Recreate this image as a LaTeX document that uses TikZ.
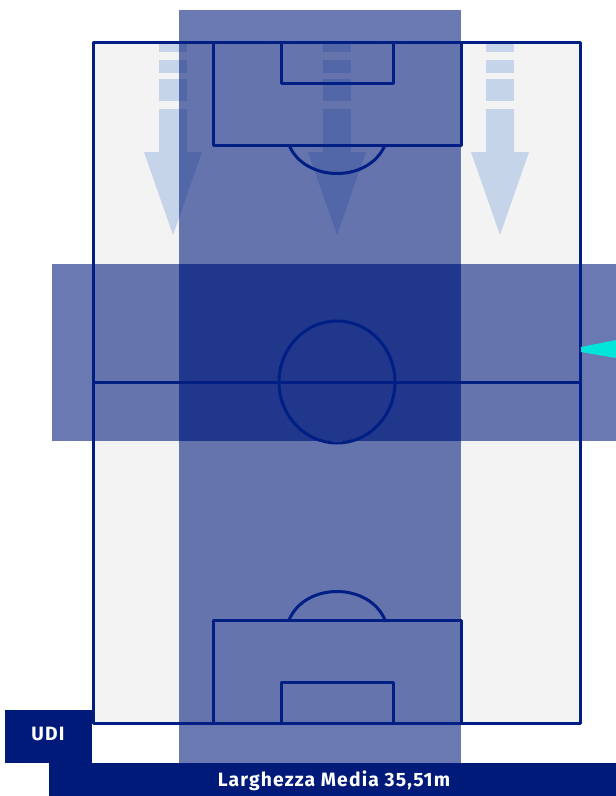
\documentclass[tikz,border=0pt]{standalone}
\usepackage{fontspec}
\setmainfont{Fira Sans}
\newfontfamily\labelfont[LetterSpace=6,BoldFont={Fira Sans Bold}]{Fira Sans}
\definecolor{navy}{HTML}{001A7A}
\definecolor{line}{HTML}{001F85}
\definecolor{pitch}{HTML}{F3F3F3}
\definecolor{arrowblue}{HTML}{C5D4E9}
\definecolor{overlapblue}{HTML}{20378C}
\definecolor{cyanmark}{HTML}{00E5DA}
\tikzset{
  band/.style={fill=navy,fill opacity=.585,draw=none},
  pitchline/.style={draw=line,line width=3pt,line join=round},
  arrowpart/.style={fill=arrowblue,draw=none},
  label/.style={text=white,font=\labelfont\bfseries\fontsize{19.3}{22}\selectfont,inner sep=0pt}
}
\newcommand{\downarrowmark}[1]{%
  \fill[arrowpart] (#1-14,44) rectangle (#1+14,52);
  \fill[arrowpart] (#1-14,60) rectangle (#1+14,73);
  \fill[arrowpart] (#1-14,79) rectangle (#1+14,101);
  \fill[arrowpart] (#1-14,109) -- (#1+14,109) -- (#1+14,152) -- (#1+29,152)
     -- (#1,235) -- (#1-29,152) -- (#1-14,152) -- cycle;
}
\begin{document}
\begin{tikzpicture}[x=1pt,y=-1pt]
\useasboundingbox (0,0) rectangle (616,796);
% pitch ground
\fill[pitch] (93,42) rectangle (580,723);
% attack arrows
\downarrowmark{173}
\downarrowmark{337}
\downarrowmark{500}
% occupied bands
\fill[band] (179,10) rectangle (461,763);
\fill[band] (52,264) rectangle (616,441);
\fill[overlapblue] (179,264) rectangle (461,441);
% pitch markings
\draw[pitchline] (93,42) rectangle (580,723);
\draw[pitchline] (93,382) -- (580,382);
\draw[pitchline] (337,382) ellipse [x radius=58,y radius=61];
\draw[pitchline] (213,42) -- (213,145) -- (461,145) -- (461,42);
\draw[pitchline] (281,42) -- (281,83) -- (393,83) -- (393,42);
\draw[pitchline] (213,723) -- (213,620) -- (461,620) -- (461,723);
\draw[pitchline] (281,723) -- (281,682) -- (393,682) -- (393,723);
\draw[pitchline] (289,145) .. controls (305,183) and (369,183) .. (385,145);
\draw[pitchline] (289,620) .. controls (305,582) and (369,582) .. (385,620);
% cyan marker
\fill[cyanmark] (616,340) -- (616,358) -- (581,352) -- (581,347) -- cycle;
% labels
\fill[navy] (5,710) rectangle (92,763);
\fill[navy] (49,763) rectangle (616,796);
\node[label] (team) at (48,734) {UDI};
\node[label] (width) at (334,781) {Larghezza Media 35,51m};
\end{tikzpicture}
\end{document}
